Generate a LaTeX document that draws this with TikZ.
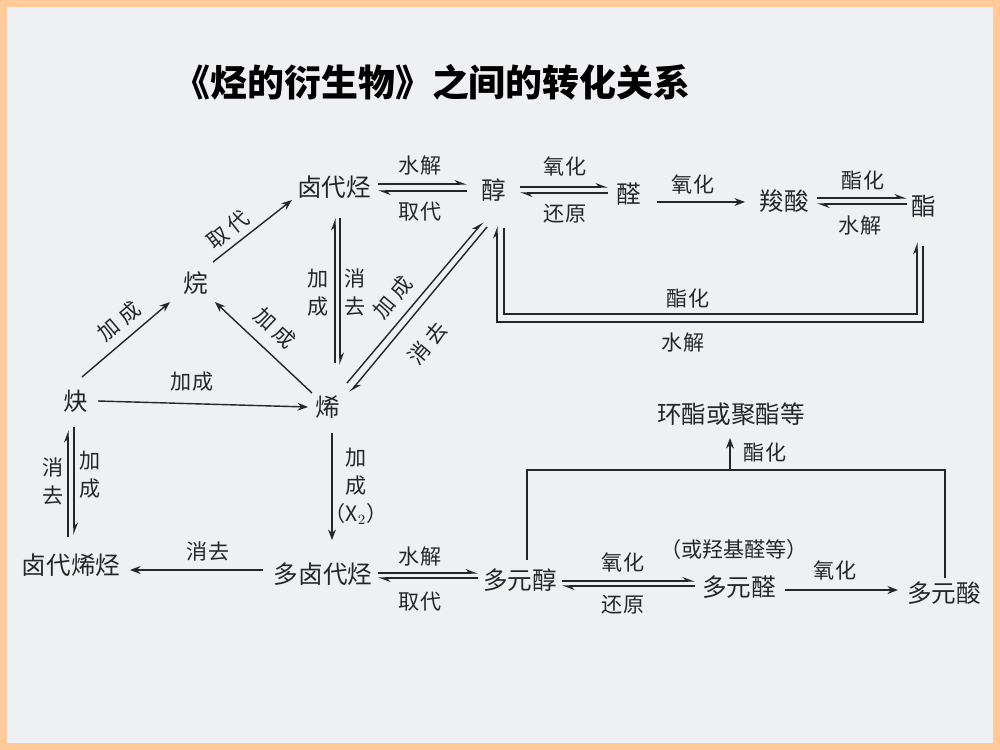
\documentclass[tikz,border=0pt]{standalone}
\usepackage{fontspec}
\setmainfont{Noto Sans CJK SC}
\usetikzlibrary{arrows.meta}
\definecolor{peach}{HTML}{FFC99A}
\definecolor{bgc}{HTML}{EEF0F2}
\definecolor{ink}{HTML}{262626}
\newcommand{\gp}{\hspace{3pt}}
\begin{document}
\begin{tikzpicture}[x=0.02cm,y=-0.02cm,
  n/.style={font=\fontsize{14}{16}\selectfont, inner sep=1pt, text=ink},
  lb/.style={font=\fontsize{12}{16}\selectfont, inner sep=0pt, text=ink, align=center},
  ln/.style={draw=ink, line width=0.8pt},
  ar/.style={ln, -{Stealth[length=6pt,width=4.5pt]}},
  hp/.style={ln, -{Stealth[harpoon,length=6pt,width=4.5pt]}}]
\useasboundingbox (0,0) rectangle (1000,750);
\fill[peach] (0,0) rectangle (1000,750);
\fill[bgc] (7,7) rectangle (993,743);
% title
\node[font=\fontsize{21}{24}\selectfont\bfseries, text=black] (title) at (432,82) {《烃的衍生物》之间的转化关系};
% nodes
\node[n] (hx) at (334,187) {卤代烃};
\node[n] (chun) at (494,190) {醇};
\node[n] (quan) at (629,194) {醛};
\node[n] (suo) at (784,201) {羧酸};
\node[n] (zhi) at (924,206) {酯};
\node[n] (wan) at (196,283) {烷};
\node[n] (que) at (76,401) {炔};
\node[n] (xi) at (328,407) {烯};
\node[n] (lxt) at (71,565) {卤代烯烃};
\node[n] (dlt) at (323,574) {多卤代烃};
\node[n] (dyc) at (520,580) {多元醇};
\node[n] (dyq) at (739,587) {多元醛};
\node[n] (dys) at (944,593) {多元酸};
\node[n] (hz) at (731,414) {环酯或聚酯等};
\node[lb] (note) at (734,549) {（或羟基醛等）};
% top row
\draw[hp] ([shift={(44,-3)}]hx.center) -- ([shift={(-27,-6)}]chun.center);
\draw[hp] ([shift={(-27,1)}]chun.center) -- ([shift={(44,4)}]hx.center);
\node[lb] (l1) at (420,166) {水解};
\node[lb] (l2) at (420,212) {取代};
\draw[hp] ([shift={(26,-3)}]chun.center) -- ([shift={(-21,-7)}]quan.center);
\draw[hp] ([shift={(-21,-1)}]quan.center) -- ([shift={(26,3)}]chun.center);
\node[lb] (l3) at (565,166) {氧化};
\node[lb] (l4) at (565,214) {还原};
\draw[ar] ([shift={(28,8)}]quan.center) -- ([shift={(-39,1)}]suo.center);
\node[lb] (l5) at (693,184) {氧化};
\draw[hp] ([shift={(33,-3)}]suo.center) -- ([shift={(-17,-8)}]zhi.center);
\draw[hp] ([shift={(-17,-2)}]zhi.center) -- ([shift={(33,3)}]suo.center);
\node[lb] (l6) at (863,180) {酯化};
\node[lb] (l7) at (860,226) {水解};
% loop alcohol - ester
\draw[hp] ([shift={(10,38)}]chun.center) |- ([shift={(-7,108)}]zhi.center) -- ([shift={(-7,36)}]zhi.center);
\draw[hp] ([shift={(-1,40)}]zhi.center) |- ([shift={(3,132)}]chun.center) -- ([shift={(3,36)}]chun.center);
\node[lb] (l8) at (688,298) {酯化};
\node[lb] (l9) at (683,343) {水解};
% halide <-> alkene
\draw[hp] ([shift={(7,-44)}]xi.center) -- ([shift={(1,31)}]hx.center);
\draw[hp] ([shift={(6,31)}]hx.center) -- ([shift={(12,-42)}]xi.center);
\node[lb] (l10) at (318,293) {加\\成};
\node[lb] (l11) at (355,292) {消\\去};
% alkene <-> alcohol
\draw[hp] ([shift={(19,-24)}]xi.center) -- ([shift={(-11,32)}]chun.center);
\draw[hp] ([shift={(-7,37)}]chun.center) -- ([shift={(22,-15)}]xi.center);
\node[lb, rotate=50] (l12) at (393,297) {加\gp 成};
\node[lb, rotate=50] (l13) at (428,343) {消\gp 去};
% alkane triangle
\draw[ar] ([shift={(17,-21)}]wan.center) -- ([shift={(-42,13)}]hx.center);
\node[lb, rotate=38] (l14) at (228,230) {取\gp 代};
\draw[ar] ([shift={(6,-24)}]que.center) -- ([shift={(-26,19)}]wan.center);
\node[lb, rotate=40] (l15) at (119,321) {加\gp 成};
\draw[ar] ([shift={(-16,-14)}]xi.center) -- ([shift={(19,19)}]wan.center);
\node[lb, rotate=-43] (l16) at (275,328) {加\gp 成};
\draw[ar] ([shift={(22,0)}]que.center) -- ([shift={(-20,0)}]xi.center);
\node[lb] (l17) at (192,382) {加成};
% alkyne <-> haloalkene
\draw[hp] ([shift={(-3,-28)}]lxt.center) -- ([shift={(-8,29)}]que.center);
\draw[hp] ([shift={(-2,26)}]que.center) -- ([shift={(3,-30)}]lxt.center);
\node[lb] (l18) at (53,481) {消\\去};
\node[lb] (l19) at (90,475) {加\\成};
% alkene -> polyhalide
\draw[ar] ([shift={(4,26)}]xi.center) -- ([shift={(9,-34)}]dlt.center);
\node[lb] (l20) at (356,486) {加\\成\\（$\mathrm{X}_2$）};
\draw[ar] ([shift={(-60,-4)}]dlt.center) -- ([shift={(59,5)}]lxt.center);
\node[lb] (l21) at (208,551) {消去};
% bottom row
\draw[hp] ([shift={(55,-1)}]dlt.center) -- ([shift={(-42,-7)}]dyc.center);
\draw[hp] ([shift={(-42,-2)}]dyc.center) -- ([shift={(55,4)}]dlt.center);
\node[lb] (l22) at (420,557) {水解};
\node[lb] (l23) at (420,602) {取代};
\draw[hp] ([shift={(42,1)}]dyc.center) -- ([shift={(-44,-6)}]dyq.center);
\draw[hp] ([shift={(-44,-1)}]dyq.center) -- ([shift={(42,6)}]dyc.center);
\node[lb] (l24) at (623,562) {氧化};
\node[lb] (l25) at (623,605) {还原};
\draw[ar] ([shift={(46,3)}]dyq.center) -- ([shift={(-46,-3)}]dys.center);
\node[lb] (l26) at (835,570) {氧化};
% esterification bracket
\draw[ln] ([shift={(7,-20)}]dyc.center) |- ([shift={(1,-123)}]dys.center) -- ([shift={(1,-15)}]dys.center);
\coordinate (bj) at ([shift={(-1,56)}]hz.center);
\draw[ar] (bj) -- ([shift={(-1,24)}]hz.center);
\node[lb] (l27) at (765,452) {酯化};
\end{tikzpicture}
\end{document}
